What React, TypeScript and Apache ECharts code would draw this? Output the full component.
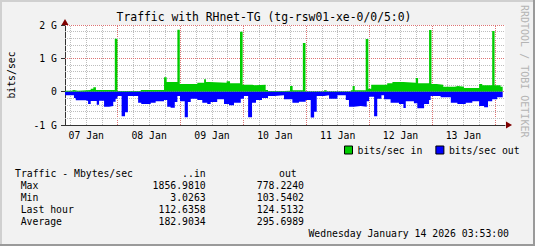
import React, { useEffect, useRef } from 'react';
import * as echarts from 'echarts';

// Time in hours since 07 Jan 00:00, values in Gbit/s
const X_START = 3 + 53 / 60; // 07 Jan 03:53
const X_END = X_START + 168; // 14 Jan 03:53

const inTimes = [3.88, 6.3, 7.3, 8.8, 13.7, 14.7, 15.7, 22.9, 23.9, 32.8, 41.7, 42.7, 46.8, 47.7, 54.4, 57.0, 57.7, 59.0, 65.6, 66.9, 70.7, 71.7, 75.4, 76.3, 80.5, 81.4, 87.5, 89.8, 90.8, 94.7, 95.7, 102.8, 103.8, 113.0, 113.7, 114.5, 118.7, 119.7, 120.8, 126.9, 128.9, 133.1, 137.8, 138.7, 142.9, 143.8, 145.8, 148.3, 152.7, 153.9, 156.2, 162.0, 163.2, 167.0, 167.9, 170.2];
const inValues = [0.03, 0.05, 0.03, 0.05, 0.09, 0.13, 0.05, 1.59, 0.02, 0.05, 0.43, 0.29, 1.857, 0.23, 0.27, 0.37, 0.29, 0.27, 0.31, 0.25, 1.80, 0.21, 0.19, 0.21, 0.05, 0.02, 0.03, 0.17, 0.04, 1.46, 0.01, 0.04, 0.01, 0.04, 0.17, 0.04, 1.58, 0.09, 0.21, 0.25, 0.29, 0.27, 0.41, 0.25, 1.85, 0.23, 0.21, 0.15, 0.17, 0.15, 0.11, 0.23, 0.19, 1.82, 0.19, 0.15];

const outTimes = [3.88, 7.3, 8.0, 11.8, 12.7, 13.7, 16.0, 16.9, 18.8, 20.7, 22.3, 23.2, 23.9, 25.5, 26.8, 27.9, 31.8, 33.0, 36.6, 38.5, 41.7, 42.9, 44.2, 45.8, 46.8, 47.8, 49.6, 50.8, 51.9, 54.4, 56.3, 58.2, 59.5, 62.0, 64.6, 66.5, 68.4, 71.0, 72.2, 73.8, 75.3, 76.8, 79.1, 81.4, 83.7, 87.5, 90.7, 93.2, 95.8, 97.7, 99.0, 100.0, 102.8, 104.7, 107.9, 111.1, 112.3, 114.2, 116.8, 119.1, 120.0, 121.9, 123.1, 124.7, 125.7, 128.2, 131.4, 133.1, 134.0, 137.1, 138.4, 141.0, 142.9, 143.5, 147.3, 151.2, 153.7, 156.9, 159.4, 162.0, 163.9, 165.4, 167.0, 168.9];
const outValues = [0.11, 0.19, 0.26, 0.28, 0.37, 0.28, 0.39, 0.27, 0.45, 0.43, 0.30, 0.21, 0.13, 0.74, 0.62, 0.13, 0.33, 0.37, 0.33, 0.29, 0.25, 0.45, 0.48, 0.31, 0.13, 0.29, 0.77, 0.31, 0.21, 0.25, 0.33, 0.37, 0.31, 0.23, 0.37, 0.41, 0.33, 0.21, 0.13, 0.77, 0.33, 0.25, 0.19, 0.13, 0.11, 0.23, 0.33, 0.30, 0.25, 0.778, 0.60, 0.13, 0.11, 0.21, 0.11, 0.25, 0.45, 0.43, 0.45, 0.29, 0.15, 0.74, 0.21, 0.11, 0.23, 0.33, 0.37, 0.49, 0.29, 0.35, 0.50, 0.37, 0.25, 0.13, 0.17, 0.33, 0.37, 0.33, 0.29, 0.43, 0.47, 0.29, 0.23, 0.17];
const DATA_END = 171.0;

const dayLabels = ['07 Jan', '08 Jan', '09 Jan', '10 Jan', '11 Jan', '12 Jan', '13 Jan'];
const dayLabelHours = [12, 36, 60, 84, 108, 132, 156];
const yTickValues = [-1, 0, 1, 2];
const yTickLabels = ['-1 G', '0', '1 G', '2 G'];

const statNames = ['Max', 'Min', 'Last hour', 'Average'];
const statIn = [1856.981, 3.0263, 112.6358, 182.9034];
const statOut = [778.224, 103.5402, 124.5132, 295.6989];

const seriesNames = ['bits/sec in', 'bits/sec out'];
const TITLE = 'Traffic with RHnet-TG (tg-rsw01-xe-0/0/5:0)';
const STAT_HEADER = 'Traffic - Mbytes/sec';
const DATE_LINE = 'Wednesday January 14 2026 03:53:00';
const WATERMARK = 'RRDTOOL / TOBI OETIKER';

const FONT = "'DejaVu Sans Mono', monospace";
const FS = 9.8;

function stepData(times: number[], values: number[], end: number, sign: number) {
  const d = times.map((t, i) => [t, sign * values[i]]);
  d.push([end, sign * values[values.length - 1]]);
  return d;
}

export default function App() {
  const ref = useRef<HTMLDivElement>(null);
  useEffect(() => {
    const chart = echarts.init(ref.current!, null, { renderer: 'svg' });

    const MAJOR = '#dd7474';
    const MINOR = '#bdbdbd';
    const gridLines: any[] = [];
    for (let h = 6; h < X_END; h += 6) {
      if (h <= X_START) continue;
      const major = h % 24 === 0;
      gridLines.push({
        xAxis: h,
        lineStyle: { color: major ? MAJOR : MINOR, type: [1, 1], width: 1 },
      });
    }
    for (let k = -4; k <= 10; k++) {
      const v = k / 5;
      const major = k % 5 === 0;
      gridLines.push({
        yAxis: v,
        lineStyle: { color: major ? MAJOR : MINOR, type: [1, 1], width: 1 },
      });
    }

    const txt = (text: string, x: number, y: number, align: string, extra: any = {}) => ({
      type: 'text',
      x,
      y,
      z: 10,
      style: {
        text,
        fontFamily: FONT,
        fontSize: FS,
        fill: '#000',
        align,
        verticalAlign: 'middle',
        ...extra,
      },
    });

    const graphics: any[] = [
      txt(TITLE, 264, 17, 'center', { fontSize: 11.4 }),
      { ...txt('bits/sec', 11, 75, 'center'), rotation: Math.PI / 2 },
      { ...txt(WATERMARK, 524, 5, 'left', { fill: '#b4b4b4', fontSize: 10 }), rotation: -Math.PI / 2 },
      txt(STAT_HEADER, 15, 173.3, 'left'),
      txt('..in', 205.7, 173.3, 'right'),
      txt('out', 279, 173.3, 'left'),
      txt(DATE_LINE, 509, 233.5, 'right'),
    ];
    statNames.forEach((n, i) => {
      const y = 185.3 + i * 12;
      graphics.push(txt(n, 20.7, y, 'left'));
      graphics.push(txt(statIn[i].toFixed(4), 205.7, y, 'right'));
      graphics.push(txt(statOut[i].toFixed(4), 304, y, 'right'));
    });
    // frame shading
    graphics.push(
      { type: 'rect', z: 20, shape: { x: 0, y: 0, width: 535, height: 2 }, style: { fill: '#d0d0d0' } },
      { type: 'rect', z: 20, shape: { x: 0, y: 0, width: 2, height: 246 }, style: { fill: '#d0d0d0' } },
      { type: 'rect', z: 20, shape: { x: 533, y: 0, width: 2, height: 246 }, style: { fill: '#9a9a9a' } },
      { type: 'rect', z: 20, shape: { x: 0, y: 244, width: 535, height: 2 }, style: { fill: '#9a9a9a' } }
    );

    const option: any = {
      animation: false,
      backgroundColor: '#f2f2f2',
      grid: {
        left: 65,
        top: 25,
        width: 440,
        height: 100,
        show: true,
        backgroundColor: '#ffffff',
        borderWidth: 0,
      },
      legend: {
        data: seriesNames,
        left: 344,
        top: 145,
        padding: 0,
        itemWidth: 8,
        itemHeight: 8,
        itemGap: 13,
        icon: 'rect',
        selectedMode: false,
        itemStyle: { borderColor: '#000', borderWidth: 1 },
        textStyle: { fontFamily: FONT, fontSize: FS, color: '#000' },
      },
      xAxis: {
        type: 'value',
        min: X_START,
        max: X_END,
        axisLine: { show: true, onZero: false, lineStyle: { color: '#333', width: 1 } },
        axisTick: { show: false },
        splitLine: { show: false },
        axisLabel: {
          customValues: dayLabelHours,
          formatter: (v: number) => {
            const i = dayLabelHours.findIndex((h) => Math.abs(h - v) < 1e-6);
            return i >= 0 ? dayLabels[i] : '';
          },
          fontFamily: FONT,
          fontSize: FS,
          color: '#000',
          margin: 5,
        },
      },
      yAxis: {
        type: 'value',
        min: -1,
        max: 2,
        interval: 1,
        axisLine: { show: true, onZero: false, lineStyle: { color: '#333', width: 1 } },
        axisTick: { show: true, length: 4, lineStyle: { color: '#333' } },
        splitLine: { show: false },
        axisLabel: {
          formatter: (v: number) => {
            const i = yTickValues.findIndex((t) => Math.abs(t - v) < 1e-6);
            return i >= 0 ? yTickLabels[i] : '';
          },
          fontFamily: FONT,
          fontSize: FS,
          color: '#000',
          margin: 8,
        },
      },
      series: [
        {
          name: 'grid',
          type: 'line',
          data: [],
          z: 1,
          silent: true,
          markLine: {
            silent: true,
            z: 1,
            symbol: ['none', 'none'],
            label: { show: false },
            animation: false,
            data: gridLines,
          },
          markPoint: {
            silent: true,
            z: 6,
            label: { show: false },
            animation: false,
            data: [
              { coord: [X_START, 2], symbol: 'triangle', symbolSize: [7, 6], symbolOffset: [0, -3], itemStyle: { color: '#7f0000' } },
              { coord: [X_END, -1], symbol: 'triangle', symbolRotate: -90, symbolSize: [7, 6], symbolOffset: [4, 0], itemStyle: { color: '#7f0000' } },
            ],
          },
        },
        {
          name: seriesNames[0],
          type: 'line',
          step: 'end',
          z: 3,
          showSymbol: false,
          symbol: 'none',
          data: stepData(inTimes, inValues, DATA_END, 1),
          lineStyle: { width: 0 },
          itemStyle: { color: '#00cc00' },
          areaStyle: { color: '#00cc00', opacity: 1 },
        },
        {
          name: seriesNames[1],
          type: 'line',
          step: 'end',
          z: 3,
          showSymbol: false,
          symbol: 'none',
          data: stepData(outTimes, outValues, DATA_END, -1),
          lineStyle: { width: 0 },
          itemStyle: { color: '#0000ff' },
          areaStyle: { color: '#0000ff', opacity: 1 },
        },
      ],
      graphic: graphics,
    };
    chart.setOption(option);
    return () => chart.dispose();
  }, []);
  return <div ref={ref} style={{ position: 'absolute', left: 0, top: 0, width: 535, height: 246 }} />;
}
